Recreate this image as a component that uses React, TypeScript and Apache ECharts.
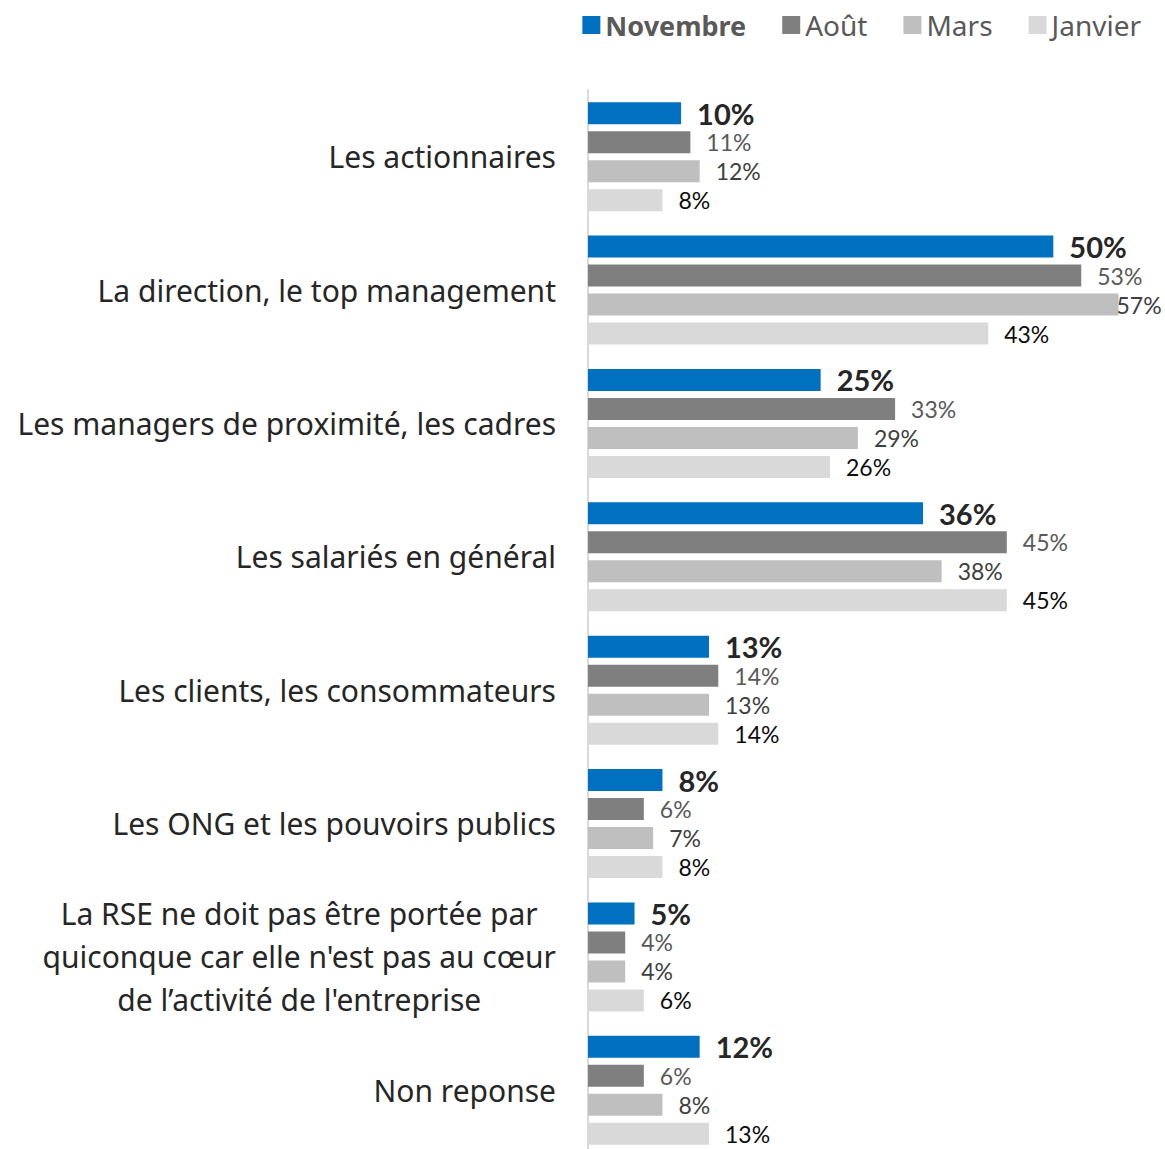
import React, { useEffect, useRef } from "react";
import * as echarts from "echarts";

const categories = [
  "Les actionnaires",
  "La direction, le top management",
  "Les managers de proximité, les cadres",
  "Les salariés en général",
  "Les clients, les consommateurs",
  "Les ONG et les pouvoirs publics",
  "La RSE ne doit pas être portée par\nquiconque car elle n'est pas au cœur\nde l’activité de l'entreprise",
  "Non reponse",
];

const seriesNames = ["Novembre", "Août", "Mars", "Janvier"];
const novembre = [10, 50, 25, 36, 13, 8, 5, 12];
const aout = [11, 53, 33, 45, 14, 6, 4, 6];
const mars = [12, 57, 29, 38, 13, 7, 4, 8];
const janvier = [8, 43, 26, 45, 14, 8, 6, 13];

const seriesValues = [novembre, aout, mars, janvier];
const colors = ["#0070C0", "#7F7F7F", "#BFBFBF", "#D9D9D9"];
const labelColors = ["#262626", "#595959", "#404040", "#0D0D0D"];

const FONT = "Lato, 'Noto Sans', sans-serif";
const CAT_FONT = "'Noto Sans', Lato, sans-serif";
const X_MAX = 62;

export default function App() {
  const ref = useRef<HTMLDivElement>(null);
  useEffect(() => {
    if (!ref.current) return;
    const chart = echarts.init(ref.current, undefined, { renderer: "svg" });
    const series = seriesNames.map((name, si) => ({
      name,
      type: "bar",
      barWidth: 22,
      barGap: "32%",
      itemStyle: { color: colors[si] },
      label: {
        show: true,
        position: "right",
        distance: 16,
        formatter: "{c}%",
        fontFamily: FONT,
        fontSize: si === 0 ? 29 : 23,
        fontWeight: si === 0 ? "bold" : "normal",
        color: labelColors[si],
      },
      data: seriesValues[si].map((v) =>
        v > 55 ? { value: v, label: { distance: -2 } } : v
      ),
    }));
    chart.setOption({
      animation: false,
      textStyle: { fontFamily: CAT_FONT },
      legend: {
        data: seriesNames,
        top: 6,
        right: 19,
        icon: "rect",
        itemWidth: 18,
        itemHeight: 18,
        itemGap: 36,
        textStyle: {
          fontFamily: CAT_FONT,
          fontSize: 28,
          color: "#595959",
          rich: {
            b: { fontFamily: CAT_FONT, fontSize: 27, fontWeight: "bold", color: "#595959" },
          },
        },
        formatter: (name: string) => (name === "Novembre" ? `{b|${name}}` : name),
      },
      grid: { left: 588, top: 90, width: 578, height: 1067, containLabel: false },
      xAxis: {
        type: "value",
        min: 0,
        max: X_MAX,
        show: false,
      },
      yAxis: {
        type: "category",
        data: categories,
        inverse: true,
        axisLine: { show: true, lineStyle: { color: "#D9D9D9", width: 2 } },
        axisTick: { show: false },
        axisLabel: {
          margin: 32,
          fontFamily: CAT_FONT,
          fontSize: 30,
          color: "#262626",
          lineHeight: 43,
          formatter: (val: string) =>
            val.includes("\n")
              ? val
                  .split("\n")
                  .map((l) => `{c|${l}}`)
                  .join("\n")
              : val,
          rich: {
            c: { fontFamily: CAT_FONT, fontSize: 30, color: "#262626", lineHeight: 43, align: "center" },
          },
        },
      },
      series,
    });
    return () => chart.dispose();
  }, []);
  return (
    <div
      ref={ref}
      style={{ position: "absolute", left: 0, top: 0, width: 1165, height: 1170 }}
    />
  );
}
